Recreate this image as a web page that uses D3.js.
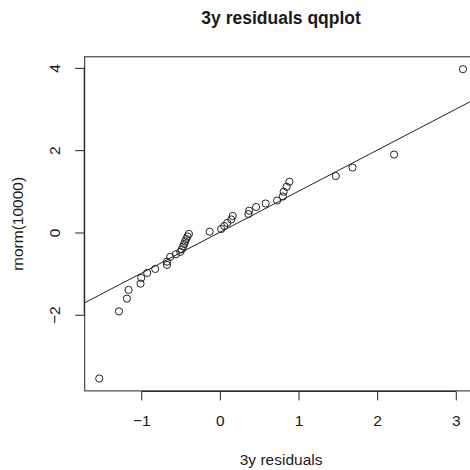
<!DOCTYPE html>
<html>
<head>
<meta charset="utf-8">
<script src="https://cdn.jsdelivr.net/npm/d3@7"></script>
<style>
  html, body { margin: 0; padding: 0; background: #fff; }
  svg { display: block; }
  text { font-family: "Liberation Sans", Arial, Helvetica, sans-serif; fill: #1a1a1a; }
</style>
</head>
<body>
<div id="chart"></div>
<script>
// Sample quantiles (x: 3y residuals, y: rnorm(10000) quantiles)
const xValues = [-1.534, -1.283, -1.182, -1.161, -1.009, -1.000, -0.924, -0.822, -0.673, -0.673,
  -0.632, -0.559, -0.504, -0.485, -0.466, -0.454, -0.441, -0.428, -0.412, -0.394,
  -0.130, 0.017, 0.055, 0.093, 0.144, 0.163, 0.363, 0.372, 0.461, 0.582,
  0.728, 0.801, 0.811, 0.849, 0.884, 1.474, 1.687, 2.215, 3.091];
const yValues = [-3.549, -1.917, -1.607, -1.396, -1.243, -1.104, -0.983, -0.886, -0.789, -0.709,
  -0.595, -0.529, -0.473, -0.408, -0.340, -0.279, -0.218, -0.158, -0.097, -0.036,
  0.019, 0.085, 0.158, 0.231, 0.316, 0.400, 0.449, 0.529, 0.619, 0.704,
  0.777, 0.874, 0.990, 1.112, 1.233, 1.371, 1.578, 1.893, 3.968];
const xTicks = [-1, 0, 1, 2, 3];
const yTicks = [-2, 0, 2, 4];
const lineIntercept = 0.005;
const lineSlope = 0.997;
const titleText = "3y residuals qqplot";
const xLabel = "3y residuals";
const yLabel = "rnorm(10000)";

const W = 470, H = 470;
const plot = { left: 84.7, right: 477.5, top: 56.8, bottom: 390.9 };

const svg = d3.select("#chart").append("svg").attr("width", W).attr("height", H);

function padded(ext) { const r = ext[1] - ext[0]; return [ext[0] - 0.04 * r, ext[1] + 0.04 * r]; }
const x = d3.scaleLinear().domain(padded(d3.extent(xValues))).range([plot.left, plot.right]);
const y = d3.scaleLinear().domain(padded(d3.extent(yValues))).range([plot.bottom, plot.top]);

const ink = "#222";

// Clip for plot region
svg.append("clipPath").attr("id", "clip").append("rect")
  .attr("x", plot.left).attr("y", plot.top)
  .attr("width", plot.right - plot.left).attr("height", plot.bottom - plot.top);

// Box
svg.append("rect")
  .attr("x", plot.left).attr("y", plot.top)
  .attr("width", plot.right - plot.left).attr("height", plot.bottom - plot.top)
  .attr("fill", "none").attr("stroke", ink).attr("stroke-width", 1);

// qqline
const xd = x.domain();
svg.append("line")
  .attr("clip-path", "url(#clip)")
  .attr("x1", x(xd[0])).attr("y1", y(lineIntercept + lineSlope * xd[0]))
  .attr("x2", x(xd[1])).attr("y2", y(lineIntercept + lineSlope * xd[1]))
  .attr("stroke", ink).attr("stroke-width", 1);

// Points
const pts = xValues.map((v, i) => ({ x: v, y: yValues[i] }));
svg.append("g").selectAll("circle").data(pts).join("circle")
  .attr("cx", d => x(d.x)).attr("cy", d => y(d.y)).attr("r", 3.6)
  .attr("fill", "none").attr("stroke", ink).attr("stroke-width", 1);

// X axis
const gx = svg.append("g").attr("transform", `translate(0,${plot.bottom + 0.5})`)
  .call(d3.axisBottom(x).tickValues(xTicks).tickSizeInner(9).tickSizeOuter(0).tickPadding(15)
    .tickFormat(d => d < 0 ? "\u2212" + Math.abs(d) : String(d)));
gx.select(".domain").attr("d", `M${x(xTicks[0])},0H${x(xTicks[xTicks.length - 1])}`).attr("stroke", ink);
gx.selectAll(".tick line").attr("stroke", ink);
gx.selectAll(".tick text").style("font-size", "15.5px").attr("fill", "#1a1a1a")
  .style("font-family", "'Liberation Sans', Arial, sans-serif");

// Y axis
const gy = svg.append("g").attr("transform", `translate(${plot.left - 0.5},0)`)
  .call(d3.axisLeft(y).tickValues(yTicks).tickSizeInner(9).tickSizeOuter(0).tickPadding(9)
    .tickFormat(d => d < 0 ? "\u2212" + Math.abs(d) : String(d)));
gy.select(".domain").attr("d", `M0,${y(yTicks[0])}V${y(yTicks[yTicks.length - 1])}`).attr("stroke", ink);
gy.selectAll(".tick line").attr("stroke", ink);
gy.selectAll(".tick text")
  .style("font-size", "15.5px").attr("fill", "#1a1a1a")
  .style("font-family", "'Liberation Sans', Arial, sans-serif")
  .attr("x", null).attr("dy", null)
  .attr("text-anchor", "middle")
  .attr("transform", "translate(-30,0) rotate(-90) translate(0,5.5)");

// Title
svg.append("text").attr("x", (plot.left + plot.right) / 2).attr("y", 24)
  .attr("text-anchor", "middle").style("font-size", "17.5px").style("font-weight", "bold")
  .text(titleText);

// Axis labels
svg.append("text").attr("x", (plot.left + plot.right) / 2).attr("y", 464.5)
  .attr("text-anchor", "middle").style("font-size", "15.5px").text(xLabel);
svg.append("text")
  .attr("transform", `translate(22.5,${(plot.top + plot.bottom) / 2}) rotate(-90)`)
  .attr("text-anchor", "middle").style("font-size", "15.5px").text(yLabel);
</script>
</body>
</html>
